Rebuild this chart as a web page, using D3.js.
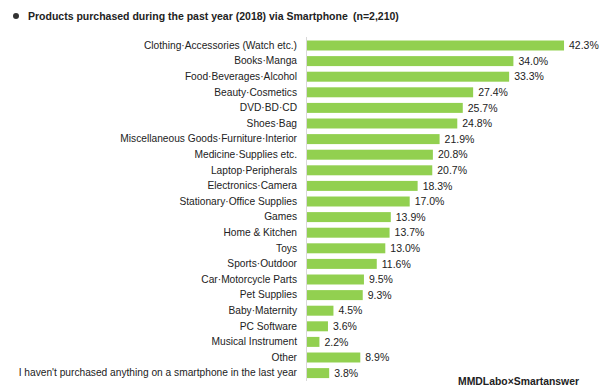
<!DOCTYPE html>
<html><head><meta charset="utf-8">
<script src="https://cdn.jsdelivr.net/npm/d3@7/dist/d3.min.js"></script>
<style>
html,body{margin:0;padding:0;background:#fff;}
svg{display:block;}
text{font-family:"Liberation Sans",Arial,sans-serif;fill:#222;}
</style></head>
<body>
<script>
const categories = [
  "Clothing·Accessories (Watch etc.)",
  "Books·Manga",
  "Food·Beverages·Alcohol",
  "Beauty·Cosmetics",
  "DVD·BD·CD",
  "Shoes·Bag",
  "Miscellaneous Goods·Furniture·Interior",
  "Medicine·Supplies etc.",
  "Laptop·Peripherals",
  "Electronics·Camera",
  "Stationary·Office Supplies",
  "Games",
  "Home & Kitchen",
  "Toys",
  "Sports·Outdoor",
  "Car·Motorcycle Parts",
  "Pet Supplies",
  "Baby·Maternity",
  "PC Software",
  "Musical Instrument",
  "Other",
  "I haven't purchased anything on a smartphone in the last year"
];
const values = [42.3,34.0,33.3,27.4,25.7,24.8,21.9,20.8,20.7,18.3,17.0,13.9,13.7,13.0,11.6,9.5,9.3,4.5,3.6,2.2,8.9,3.8];
const title = "Products purchased during the past year (2018) via Smartphone\u2002(n=2,210)";
const source = "MMDLabo×Smartanswer";

const W = 600, H = 392;
const svg = d3.select("body").append("svg").attr("width", W).attr("height", H);

const x0 = 306;
const x = d3.scaleLinear().domain([0, 50]).range([x0, x0 + 305]);
const y = d3.scaleBand().domain(categories).range([37.7, 380.9]).paddingInner(0.36).paddingOuter(0.18);

// title
svg.append("circle").attr("cx", 16).attr("cy", 16).attr("r", 3).attr("fill", "#333");
svg.append("text").attr("x", 28).attr("y", 20).attr("font-size", 10.5).attr("font-weight", "bold")
  .attr("fill", "#333").text(title);

// bars
svg.selectAll("rect.bar").data(values).enter().append("rect")
  .attr("class", "bar")
  .attr("x", x(0))
  .attr("y", (d, i) => y(categories[i]))
  .attr("width", d => x(d) - x(0))
  .attr("height", y.bandwidth())
  .attr("fill", "#92d050");

// axis line
const yAxis = d3.axisLeft(y).tickSize(0).tickPadding(9);
const g = svg.append("g").attr("transform", `translate(${x0},0)`).call(yAxis);
g.select(".domain").attr("stroke", "#d9d9d9").attr("stroke-width", 1).attr("d", `M0.5,37V381`);
g.selectAll(".tick text").attr("font-size", 10.2).attr("fill", "#222")
  .style("font-family", '"Liberation Sans",Arial,sans-serif');

// value labels
svg.selectAll("text.val").data(values).enter().append("text")
  .attr("class", "val")
  .attr("x", d => x(d) + 5)
  .attr("y", (d, i) => y(categories[i]) + y.bandwidth() / 2)
  .attr("dy", "0.35em")
  .attr("font-size", 10.5)
  .text(d => d.toFixed(1) + "%");

// source
svg.append("text").attr("x", 579).attr("y", 385).attr("text-anchor", "end")
  .attr("font-size", 10.4).attr("font-weight", "bold").attr("fill", "#333").text(source);
</script>
</body></html>
